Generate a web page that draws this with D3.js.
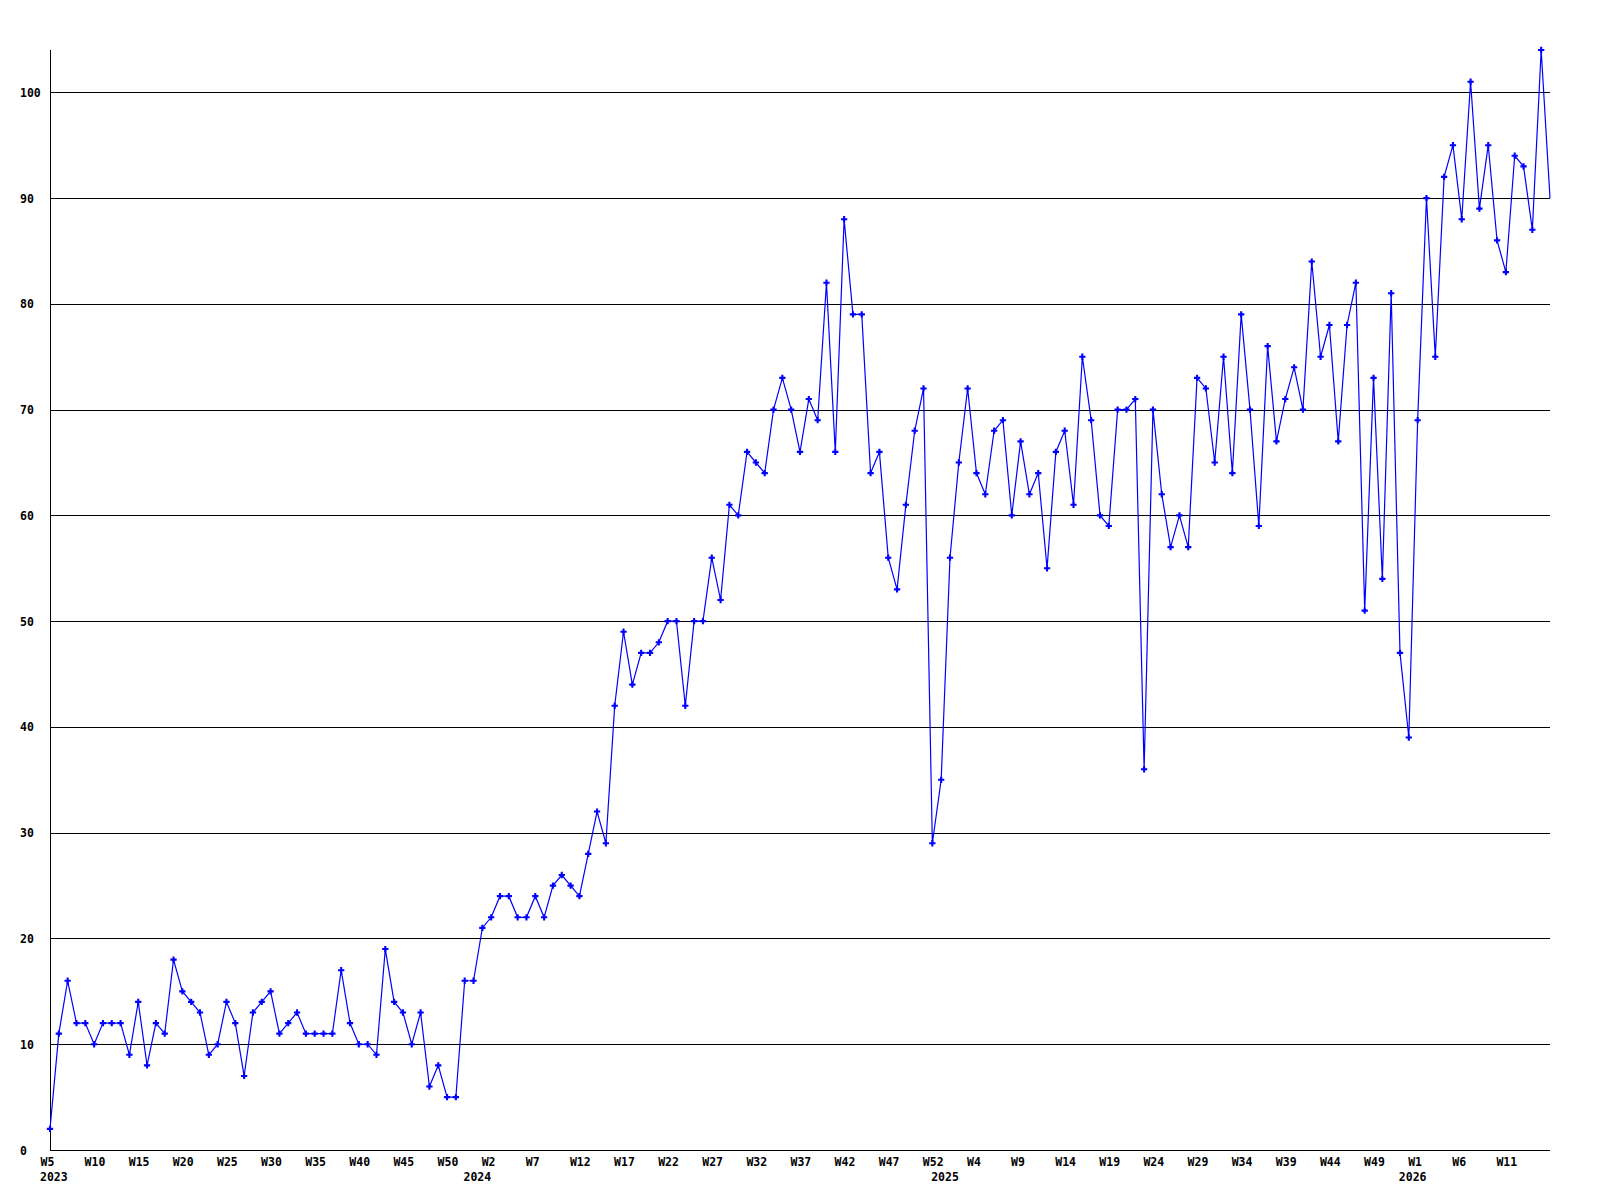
<!DOCTYPE html>
<html>
<head>
<meta charset="utf-8">
<script src="https://cdn.jsdelivr.net/npm/d3@7/dist/d3.min.js"></script>
<style>
  body{margin:0;background:#fff}
  svg text{font-family:"DejaVu Sans Mono","Liberation Mono",monospace;font-weight:bold;font-size:11.5px;fill:#000}
</style>
</head>
<body>
<div id="chart"></div>
<script>
// weekly counts, 2023 W5 .. 2026 W16 (last week still partial)
const values = [
  2, 11, 16, 12, 12, 10, 12, 12, 12, 9,
  14, 8, 12, 11, 18, 15, 14, 13, 9, 10,
  14, 12, 7, 13, 14, 15, 11, 12, 13, 11,
  11, 11, 11, 17, 12, 10, 10, 9, 19, 14,
  13, 10, 13, 6, 8, 5, 5, 16, 16,
  21, 22, 24, 24, 22, 22, 24, 22, 25, 26, 25, 24, 28, 32, 29, 42, 49, 44, 47, 47,
  48, 50, 50, 42, 50, 50, 56, 52, 61, 60,
  66, 65, 64, 70, 73, 70, 66, 71, 69, 82, 66, 88, 79, 79, 64, 66, 56, 53, 61, 68, 72, 29,
  35, 56, 65, 72, 64, 62, 68, 69, 60, 67, 62, 64, 55, 66, 68, 61, 75, 69, 60, 59,
  70, 70, 71, 36, 70, 62, 57, 60, 57, 73, 72, 65, 75, 64,
  79, 70, 59, 76, 67, 71, 74, 70, 84, 75, 78, 67, 78, 82, 51, 73, 54, 81, 47, 39,
  69, 90, 75, 92, 95, 88, 101, 89, 95, 86, 83, 94, 93, 87, 104, 90
];
// one label every 5th week
const weekTicks = ['W5','W10','W15','W20','W25','W30','W35','W40','W45','W50',
  'W2','W7','W12','W17','W22','W27','W32','W37','W42','W47','W52',
  'W4','W9','W14','W19','W24','W29','W34','W39','W44','W49',
  'W1','W6','W11'];
const years = ['2023','2024','2025','2026'];
const yearStart = [0, 48, 101, 154];   // index of first week of each year
const yTicks = [0,10,20,30,40,50,60,70,80,90,100];

(function(){
  const w = 1600, h = 1200;
  const margin = {top:50, right:50, bottom:50, left:50};
  const width = w - margin.left - margin.right;
  const height = h - margin.top - margin.bottom;

  const svg = d3.select('#chart').append('svg').attr('width',w).attr('height',h);
  const g = svg.append('g').attr('transform',`translate(${margin.left},${margin.top})`);

  const x = d3.scaleLinear().domain([0, values.length-1]).range([0,width]);
  const y = d3.scaleLinear().domain([0, d3.max(values)]).range([height,0]);

  // horizontal grid + y labels
  const ya = g.append('g').call(d3.axisLeft(y).tickValues(yTicks).tickSize(-width).tickPadding(0));
  ya.select('.domain').remove();
  ya.selectAll('.tick line').attr('stroke','#000').attr('shape-rendering','crispEdges');
  ya.selectAll('.tick text').attr('x',-30).attr('text-anchor','start').attr('dy','0.35em');

  // week labels
  const xa = g.append('g').attr('transform',`translate(0,${height})`)
    .call(d3.axisBottom(x).tickValues(weekTicks.map((d,i)=>i*5)).tickFormat((d,i)=>weekTicks[i]).tickSize(0));
  xa.select('.domain').remove();
  xa.selectAll('.tick text').attr('text-anchor','start').attr('x',-10).attr('y',16).attr('dy',0);

  // year labels
  g.selectAll('.year').data(years).enter().append('text')
    .attr('class','year')
    .attr('x',(d,i)=>x(yearStart[i])-10)
    .attr('y',height+31)
    .text(d=>d);

  // axes lines
  g.append('line').attr('x1',0).attr('x2',0).attr('y1',0).attr('y2',height)
    .attr('stroke','#000').attr('shape-rendering','crispEdges');
  g.append('line').attr('x1',0).attr('x2',width).attr('y1',height).attr('y2',height)
    .attr('stroke','#000').attr('shape-rendering','crispEdges');

  const line = d3.line().x((d,i)=>x(i)).y(d=>y(d));
  g.append('path').datum(values)
    .attr('d',line).attr('fill','none').attr('stroke','#0000ff').attr('stroke-width',1.2);

  // markers (skip the last, partial week)
  const sym = d3.symbol().type(d3.symbolCross).size(22);
  g.selectAll('.pt').data(values.slice(0,-1)).enter().append('path')
    .attr('class','pt')
    .attr('transform',(d,i)=>`translate(${x(i)},${y(d)})`)
    .attr('d',sym).attr('fill','#0000ff');
})();
</script>
</body>
</html>
